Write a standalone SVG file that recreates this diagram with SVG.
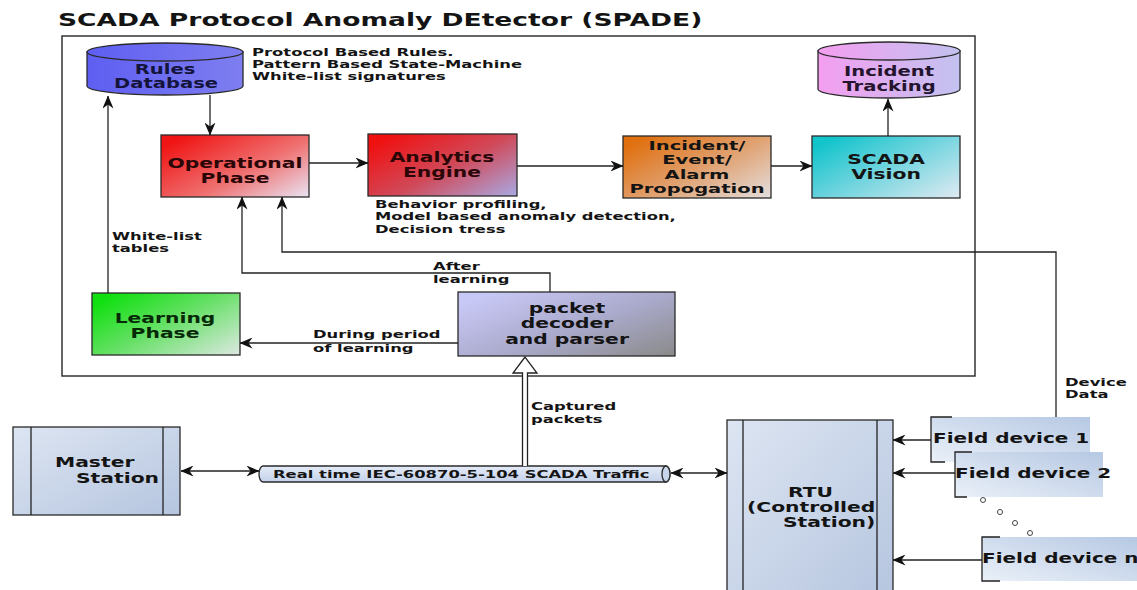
<svg xmlns="http://www.w3.org/2000/svg" width="1137" height="590" viewBox="0 0 1137 590">
<defs>
<style>
text{font-family:"DejaVu Sans","Liberation Sans",sans-serif;font-weight:bold;fill:#141414}
.t{font-size:18.3px}
.lb{font-size:14px;text-anchor:middle}
.cy{font-size:13.5px;text-anchor:middle}
.sm{font-size:11.3px}
.fd{font-size:13.8px}
.box{stroke:#2a2a2a;stroke-width:1.3}
.ln{fill:none;stroke:#222;stroke-width:1.3}
.arr{marker-end:url(#ah)}
.dbl{marker-end:url(#ah);marker-start:url(#ah)}
</style>
<marker id="ah" viewBox="0 0 13 11" refX="12.5" refY="5.5" markerWidth="13" markerHeight="11" markerUnits="userSpaceOnUse" orient="auto-start-reverse">
<path d="M0,0 L13,5.5 L0,11 L4,5.5 Z" fill="#111"/>
</marker>
<linearGradient id="gRules" x1="0" y1="0" x2="1" y2="0"><stop offset="0" stop-color="#5e5ef2"/><stop offset="1" stop-color="#7e7ef0"/></linearGradient>
<linearGradient id="gOp" x1="0" y1="0.2" x2="1" y2="1"><stop offset="0" stop-color="#f01414"/><stop offset="0.55" stop-color="#ef7272"/><stop offset="1" stop-color="#e8e4f4"/></linearGradient>
<linearGradient id="gAna" x1="0" y1="0.2" x2="1" y2="1"><stop offset="0" stop-color="#f01010"/><stop offset="0.5" stop-color="#d04a5a"/><stop offset="1" stop-color="#a8aae4"/></linearGradient>
<linearGradient id="gInc" x1="0" y1="0.2" x2="1" y2="1"><stop offset="0" stop-color="#e07010"/><stop offset="0.5" stop-color="#e0a272"/><stop offset="1" stop-color="#e4dede"/></linearGradient>
<linearGradient id="gVis" x1="0" y1="0.2" x2="1" y2="1"><stop offset="0" stop-color="#12c4cc"/><stop offset="0.5" stop-color="#7ad6e0"/><stop offset="1" stop-color="#e0eaf2"/></linearGradient>
<linearGradient id="gTrack" x1="0" y1="0" x2="1" y2="0"><stop offset="0" stop-color="#f49ef0"/><stop offset="1" stop-color="#c2c2f0"/></linearGradient>
<linearGradient id="gLearn" x1="0" y1="0.2" x2="1" y2="1"><stop offset="0" stop-color="#10e010"/><stop offset="0.45" stop-color="#66e066"/><stop offset="1" stop-color="#dde8e2"/></linearGradient>
<linearGradient id="gDec" x1="0" y1="0.2" x2="1" y2="1"><stop offset="0" stop-color="#c8c8f6"/><stop offset="0.5" stop-color="#aaaacc"/><stop offset="1" stop-color="#8a8a8a"/></linearGradient>
<linearGradient id="gSt" x1="0" y1="0" x2="1" y2="1"><stop offset="0" stop-color="#dde5f2"/><stop offset="1" stop-color="#b5c5df"/></linearGradient>
<linearGradient id="gPipe" x1="0" y1="0" x2="0" y2="1"><stop offset="0" stop-color="#e4ebf7"/><stop offset="1" stop-color="#c4d2ea"/></linearGradient>
<linearGradient id="gFD" x1="0" y1="1" x2="1" y2="0"><stop offset="0" stop-color="#eaf0f8"/><stop offset="1" stop-color="#b6c8e3"/></linearGradient>
</defs>
<rect width="1137" height="590" fill="#fff"/>

<text class="t" transform="translate(58 0) scale(1.45 1)" x="0" y="26">SCADA Protocol Anomaly DEtector (SPADE)</text>

<rect id="spade-frame" x="62" y="36" width="913" height="340" fill="none" stroke="#333" stroke-width="1.5"/>

<g id="rules-db">
<path class="box" d="M87,52 V86 A78,9 0 0 0 243,86 V52 Z" fill="url(#gRules)"/>
<ellipse class="box" cx="165" cy="52" rx="78" ry="9" fill="url(#gRules)"/>
<text class="cy" transform="translate(165 0) scale(1.45 1)" x="0" y="74" style="fill:#14143c">Rules</text>
<text class="cy" transform="translate(166 0) scale(1.45 1)" x="0" y="88" style="fill:#14143c">Database</text>
</g>

<g id="rules-note">
<text class="sm" transform="translate(252 0) scale(1.45 1)" x="0" y="56">Protocol Based Rules.</text>
<text class="sm" transform="translate(252 0) scale(1.45 1)" x="0" y="68">Pattern Based State-Machine</text>
<text class="sm" transform="translate(252 0) scale(1.45 1)" x="0" y="80">White-list signatures</text>
</g>

<g id="incident-tracking">
<path class="box" d="M818,51 V89 A71,9 0 0 0 960,89 V51 Z" fill="url(#gTrack)"/>
<ellipse class="box" cx="889" cy="51" rx="71" ry="9" fill="url(#gTrack)"/>
<text class="cy" transform="translate(889 0) scale(1.45 1)" x="0" y="76" style="fill:#24142e">Incident</text>
<text class="cy" transform="translate(889 0) scale(1.45 1)" x="0" y="91" style="fill:#24142e">Tracking</text>
</g>

<g id="operational-phase">
<rect class="box" x="161" y="135" width="148" height="62" fill="url(#gOp)"/>
<text class="lb" transform="translate(235 0) scale(1.45 1)" x="0" y="168" style="fill:#2a0606">Operational</text>
<text class="lb" transform="translate(235 0) scale(1.45 1)" x="0" y="183" style="fill:#2a0606">Phase</text>
</g>

<g id="analytics-engine">
<rect class="box" x="368" y="134" width="149" height="62" fill="url(#gAna)"/>
<text class="lb" transform="translate(442 0) scale(1.45 1)" x="0" y="162" style="fill:#2a0606">Analytics</text>
<text class="lb" transform="translate(442 0) scale(1.45 1)" x="0" y="177" style="fill:#2a0606">Engine</text>
</g>

<g id="analytics-note">
<text class="sm" transform="translate(375 0) scale(1.45 1)" x="0" y="208">Behavior profiling,</text>
<text class="sm" transform="translate(375 0) scale(1.45 1)" x="0" y="220">Model based anomaly detection,</text>
<text class="sm" transform="translate(375 0) scale(1.45 1)" x="0" y="233">Decision tress</text>
</g>

<g id="incident-propagation">
<rect class="box" x="623" y="136" width="148" height="62" fill="url(#gInc)"/>
<text class="lb" transform="translate(697 0) scale(1.6 1)" x="0" y="150" style="font-size:12.2px">Incident/</text>
<text class="lb" transform="translate(697 0) scale(1.6 1)" x="0" y="164.5" style="font-size:12.2px">Event/</text>
<text class="lb" transform="translate(697 0) scale(1.6 1)" x="0" y="179" style="font-size:12.2px">Alarm</text>
<text class="lb" transform="translate(697 0) scale(1.6 1)" x="0" y="193.5" style="font-size:12.2px">Propogation</text>
</g>

<g id="scada-vision">
<rect class="box" x="812" y="136" width="148" height="62" fill="url(#gVis)"/>
<text class="lb" transform="translate(886 0) scale(1.45 1)" x="0" y="164">SCADA</text>
<text class="lb" transform="translate(886 0) scale(1.45 1)" x="0" y="179">Vision</text>
</g>

<g id="learning-phase">
<rect class="box" x="92" y="293" width="148" height="62" fill="url(#gLearn)"/>
<text class="lb" transform="translate(165 0) scale(1.45 1)" x="0" y="323" style="fill:#062a06">Learning</text>
<text class="lb" transform="translate(165 0) scale(1.45 1)" x="0" y="338" style="fill:#062a06">Phase</text>
</g>

<g id="packet-decoder">
<rect class="box" x="458" y="292" width="217" height="64" fill="url(#gDec)"/>
<text class="lb" transform="translate(567 0) scale(1.45 1)" x="0" y="313">packet</text>
<text class="lb" transform="translate(567 0) scale(1.45 1)" x="0" y="328">decoder</text>
<text class="lb" transform="translate(567 0) scale(1.45 1)" x="0" y="344">and parser</text>
</g>

<g id="master-station">
<rect class="box" x="13" y="427" width="167" height="88" fill="url(#gSt)"/>
<line class="ln" x1="31" y1="427" x2="31" y2="515"/>
<line class="ln" x1="163" y1="427" x2="163" y2="515"/>
<text class="lb" transform="translate(55 0) scale(1.45 1)" x="0" y="467" style="text-anchor:start">Master</text>
<text class="lb" transform="translate(76 0) scale(1.45 1)" x="0" y="483" style="text-anchor:start">Station</text>
</g>

<g id="traffic-pipe">
<path class="box" d="M263,466 H666 A4,8 0 0 1 666,482 H263 A4,8 0 0 1 263,466 Z" fill="url(#gPipe)"/>
<ellipse class="box" cx="666" cy="474" rx="4" ry="8" fill="#c8d6ec"/>
<text class="sm" transform="translate(273 0) scale(1.45 1)" x="0" y="478">Real time IEC-60870-5-104 SCADA Traffic</text>
</g>

<g id="rtu">
<rect class="box" x="727" y="420" width="166" height="185" fill="url(#gSt)"/>
<line class="ln" x1="743" y1="420" x2="743" y2="605"/>
<line class="ln" x1="877" y1="420" x2="877" y2="605"/>
<text class="lb" transform="translate(788 0) scale(1.45 1)" x="0" y="497" style="text-anchor:start">RTU</text>
<text class="lb" transform="translate(747 0) scale(1.45 1)" x="0" y="512" style="text-anchor:start">(Controlled</text>
<text class="lb" transform="translate(783 0) scale(1.45 1)" x="0" y="527" style="text-anchor:start">Station)</text>
</g>

<g id="field-device-1">
<rect x="931" y="417" width="159" height="45" fill="url(#gFD)"/>
<path class="ln" d="M952,417 H931 V462 H945"/>
<text class="fd" transform="translate(933 0) scale(1.45 1)" x="0" y="443">Field device 1</text>
</g>

<g id="field-device-2">
<rect x="955" y="452" width="148" height="45" fill="url(#gFD)"/>
<path class="ln" d="M972,452 H955 V497 H967"/>
<text class="fd" transform="translate(955 0) scale(1.45 1)" x="0" y="478">Field device 2</text>
</g>

<g id="field-device-dots" fill="#fff" stroke="#444" stroke-width="1">
<circle cx="983" cy="500" r="2.5"/>
<circle cx="1000" cy="512" r="2.5"/>
<circle cx="1015" cy="523" r="2.5"/>
<circle cx="1030" cy="533" r="2.5"/>
</g>

<g id="field-device-n">
<rect x="982" y="537" width="155" height="44" fill="url(#gFD)"/>
<path class="ln" d="M1000,537 H982 V581 H1000"/>
<text class="fd" transform="translate(982 0) scale(1.45 1)" x="0" y="563">Field device n</text>
</g>

<g id="connectors">
<path class="ln arr" d="M108,293 V96"/>
<path class="ln arr" d="M210,95 V135"/>
<path class="ln arr" d="M309,163 H368"/>
<path class="ln arr" d="M517,166 H623"/>
<path class="ln arr" d="M771,166 H812"/>
<path class="ln arr" d="M888,136 V99"/>
<path class="ln arr" d="M550,292 V273 H242 V197"/>
<path class="ln arr" d="M1056,417 V252 H282 V197"/>
<path class="ln arr" d="M458,343 H240"/>
<path class="ln dbl" d="M181,471 H259"/>
<path class="ln dbl" d="M671,473 H727"/>
<path class="ln arr" d="M931,440 H893"/>
<path class="ln arr" d="M955,473 H893"/>
<path class="ln arr" d="M982,560 H893"/>
<g id="captured-arrow">
<rect x="522.5" y="372" width="5" height="94" fill="#fff"/>
<line class="ln" x1="522.5" y1="372" x2="522.5" y2="466"/>
<line class="ln" x1="527.5" y1="372" x2="527.5" y2="466"/>
<path d="M525,357 L513,373 L522.5,373 L527.5,373 L537,373 Z" fill="#fff" stroke="#222" stroke-width="1.3"/>
<line x1="523.2" y1="373" x2="526.8" y2="373" stroke="#fff" stroke-width="2"/>
</g>
</g>

<g id="edge-labels">
<text class="sm" transform="translate(112 0) scale(1.45 1)" x="0" y="240">White-list</text>
<text class="sm" transform="translate(112 0) scale(1.45 1)" x="0" y="252">tables</text>
<text class="sm" transform="translate(433 0) scale(1.45 1)" x="0" y="270">After</text>
<text class="sm" transform="translate(433 0) scale(1.45 1)" x="0" y="283">learning</text>
<text class="sm" transform="translate(313 0) scale(1.45 1)" x="0" y="338">During period</text>
<text class="sm" transform="translate(313 0) scale(1.45 1)" x="0" y="352">of learning</text>
<text class="sm" transform="translate(531 0) scale(1.45 1)" x="0" y="410">Captured</text>
<text class="sm" transform="translate(531 0) scale(1.45 1)" x="0" y="423">packets</text>
<text class="sm" transform="translate(1065 0) scale(1.45 1)" x="0" y="386">Device</text>
<text class="sm" transform="translate(1065 0) scale(1.45 1)" x="0" y="398">Data</text>
</g>
</svg>
